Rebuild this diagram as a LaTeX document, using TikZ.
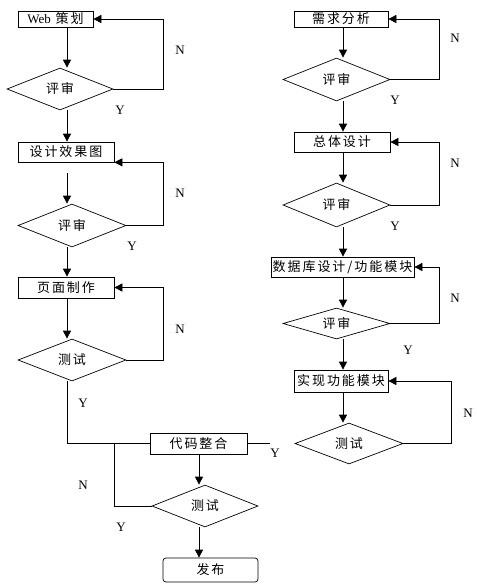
\documentclass[tikz,border=0pt]{standalone}
\usepackage{fontspec}
\setmainfont{Liberation Serif}
\newfontfamily\cjk[LetterSpace=15]{Noto Sans CJK SC}
\usetikzlibrary{shapes.geometric,arrows.meta}

\begin{document}
\begin{tikzpicture}[x=1pt,y=-1pt,
	line width=0.7pt,
	font=\fontsize{13}{15}\selectfont,
	stepbox/.style={draw, inner sep=0pt, font=\fontsize{13}{15}\selectfont\cjk},
	check/.style={draw, diamond, aspect=3.5, inner sep=0pt, font=\fontsize{13}{15}\selectfont\cjk},
	arr/.style={-{Triangle[width=8pt,length=8pt]}}]
	\useasboundingbox (0,0) rectangle (477,587);
	\coordinate (lcol) at (67,0);
	\coordinate (lloop) at (163,0);
	\coordinate (rloop) at (439,0);
	\coordinate (rloopb) at (451,0);
	\coordinate (junc) at (114,443);
	\coordinate (stubx) at (270,0);
	% Left Column %
	\node (web) [stepbox, minimum width=75pt, minimum height=16pt] at (55.5,19) {{\rmfamily Web} 策划};
	\node (lcheck1) [check, minimum width=106pt, minimum height=42pt] at (60,89) {评审};
	\node (effect) [stepbox, minimum width=96pt, minimum height=20pt] at (66,152) {设计效果图};
	\node (lcheck2) [check, minimum width=108pt, minimum height=43pt] at (72,225.5) {评审};
	\node (page) [stepbox, minimum width=96pt, minimum height=21pt] at (66,287.5) {页面制作};
	\node (ltest) [check, minimum width=108pt, minimum height=42pt] at (72,360) {测试};
	\draw [arr] (web.south -| lcol) -- (lcheck1.north -| lcol);
	\draw [arr] (lcheck1.south -| lcol) -- (effect.north -| lcol);
	\draw [arr, shorten <=11pt] (effect.south -| lcol) -- (lcheck2.north -| lcol);
	\draw [arr] (lcheck2.south -| lcol) -- (page.north -| lcol);
	\draw [arr] (page.south -| lcol) -- (ltest.north -| lcol);
	\draw [arr] (lcheck1.east) -- (lcheck1.east -| lloop) |- (web.east);
	\draw [arr] (lcheck2.east) -- (lcheck2.east -| lloop) |- (effect.south east);
	\draw [arr] (ltest.east) -- (ltest.east -| lloop) |- (page.east);
	\node (n1) at (180,50) {N};
	\node (y1) at (120,110) {Y};
	\node (n2) at (180,193) {N};
	\node (y2) at (132,246) {Y};
	\node (n3) at (180,329) {N};
	\node (y3) at (83,403) {Y};
	% Right Column %
	\node (req) [stepbox, minimum width=94pt, minimum height=16pt] at (341,19) {需求分析};
	\node (rcheck1) [check, minimum width=107pt, minimum height=43pt] at (336.5,79.5) {评审};
	\node (overall) [stepbox, minimum width=96pt, minimum height=20pt] at (342,142) {总体设计};
	\node (rcheck2) [check, minimum width=107pt, minimum height=44pt] at (336.5,205) {评审};
	\node (dbase) [stepbox, minimum width=143pt, minimum height=20pt] at (342.5,267) {数据库设计/功能模块};
	\node (rcheck3) [check, minimum width=107pt, minimum height=31pt] at (336.5,323.5) {评审};
	\node (impl) [stepbox, minimum width=94pt, minimum height=22pt] at (341,381) {实现功能模块};
	\node (rtest) [check, minimum width=108pt, minimum height=41pt] at (349,443.5) {测试};
	\coordinate (rcol) at (343,0);
	\draw [arr] (req.south -| rcol) -- (rcheck1.north -| rcol);
	\draw [arr] (rcheck1.south -| rcol) -- (overall.north -| rcol);
	\draw [arr] (overall.south -| rcol) -- (rcheck2.north -| rcol);
	\draw [arr] (rcheck2.south -| rcol) -- (dbase.north -| rcol);
	\draw [arr] (dbase.south -| rcol) -- (rcheck3.north -| rcol);
	\draw [arr] (rcheck3.south -| rcol) -- (impl.north -| rcol);
	\draw [arr] (impl.south -| rcol) -- (rtest.north -| rcol);
	\draw [arr] (rcheck1.east) -- (rcheck1.east -| rloop) |- (req.east);
	\draw [arr] (rcheck2.east) -- (rcheck2.east -| rloop) |- (overall.east);
	\draw [arr] (rcheck3.east) -- (rcheck3.east -| rloop) |- (dbase.east);
	\draw [arr] (rtest.east) -- (rtest.east -| rloopb) |- (impl.east);
	\node (n4) at (455,38) {N};
	\node (y4) at (395,100) {Y};
	\node (n5) at (455,163) {N};
	\node (y5) at (395,226) {Y};
	\node (n6) at (455,298) {N};
	\node (y6) at (408,350) {Y};
	\node (n7) at (468,413) {N};
	% Merge %
	\node (code) [stepbox, minimum width=97pt, minimum height=21pt] at (198.5,443.5) {代码整合};
	\node (ftest) [check, minimum width=106pt, minimum height=42pt] at (205,506) {测试};
	\node (publish) [stepbox, rounded corners=3pt, minimum width=95pt, minimum height=24pt] at (210.5,570) {发布};
	\coordinate (mcol) at (199,0);
	\draw (ltest.south -| lcol) |- (code.west);
	\draw (code.east) -- (code.east -| stubx);
	\draw (junc) |- (ftest.west);
	\draw [arr] (code.south -| mcol) -- (ftest.north -| mcol);
	\draw [arr] (ftest.south -| mcol) -- (publish.north -| mcol);
	\node (y7) at (275,453) {Y};
	\node (n8) at (83,485) {N};
	\node (y8) at (121,527) {Y};
\end{tikzpicture}
\end{document}
